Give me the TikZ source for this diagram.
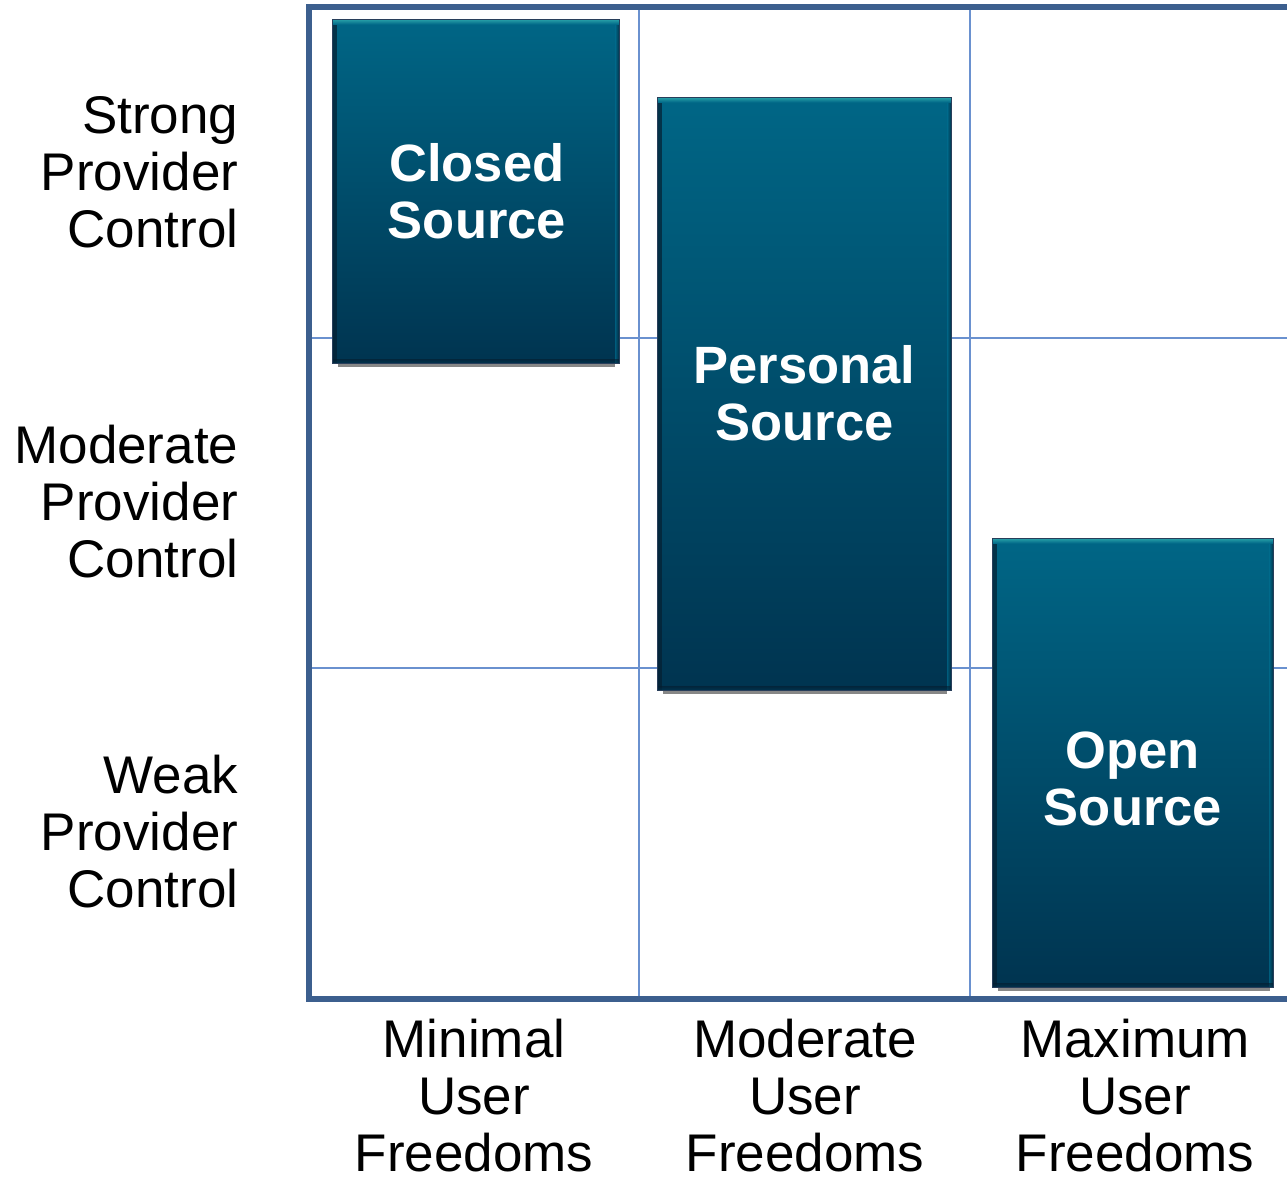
\documentclass[tikz,border=0pt]{standalone}
\usepackage{fontspec}
\setmainfont{Liberation Sans}
\definecolor{frameblue}{RGB}{60,95,142}
\definecolor{gridblue}{RGB}{106,145,207}
\definecolor{boxtop}{RGB}{0,102,134}
\definecolor{boxbot}{RGB}{0,52,80}
\definecolor{bevtop}{RGB}{40,160,168}
\definecolor{boxedge}{RGB}{5,30,48}
\definecolor{boxline}{RGB}{40,62,90}
\definecolor{shadowgray}{RGB}{135,135,135}
\begin{document}
\begin{tikzpicture}[x=1pt,y=-1pt,
  framestyle/.style={draw=frameblue,line width=6pt,line join=miter},
  gridstyle/.style={draw=gridblue,line width=2pt},
  axislabel/.style={inner sep=0pt,text=black,font=\fontsize{53}{57}\selectfont},
  srcbox/.style={anchor=north west,inner sep=0pt,draw=boxline,line width=0.8pt,
    top color=boxtop,bottom color=boxbot,
    path picture={
      \shade[left color=boxedge,right color=boxtop,opacity=0.7]
        (path picture bounding box.south west) rectangle ([xshift=4pt]path picture bounding box.north west);
      \shade[right color=boxedge,left color=boxtop,opacity=0.7]
        (path picture bounding box.south east) rectangle ([xshift=-4pt]path picture bounding box.north east);
      \shade[top color=boxedge,bottom color=boxbot,opacity=0.6]
        (path picture bounding box.south west) rectangle ([yshift=4pt]path picture bounding box.south east);
      \shade[top color=bevtop,bottom color=boxtop]
        (path picture bounding box.north west) rectangle ([yshift=-5pt]path picture bounding box.north east);
    }},
  srctext/.style={inner sep=0pt,align=center,text=white,font=\fontsize{52.5}{57}\selectfont\bfseries},
  shadowstyle/.style={fill=shadowgray}
]
\useasboundingbox[fill=white] (0,0) rectangle (1287,1179);

% grid
\draw[gridstyle] (639,7) -- (639,999);
\draw[gridstyle] (970,7) -- (970,999);
\draw[gridstyle] (309,338) -- (1287,338);
\draw[gridstyle] (309,668) -- (1287,668);
% frame
\draw[framestyle] (1290,7) -- (309,7) -- (309,999) -- (1290,999);

% boxes
\node[srcbox,minimum width=287pt,minimum height=344pt] (closed) at (332,19) {};
\node[srcbox,minimum width=294pt,minimum height=593pt] (personal) at (657,97) {};
\node[srcbox,minimum width=281pt,minimum height=449pt] (open) at (992,538) {};

\fill[shadowstyle] ([xshift=6pt]closed.south west) rectangle ([xshift=-5pt,yshift=-3pt]closed.south east);
\fill[shadowstyle] ([xshift=6pt]personal.south west) rectangle ([xshift=-5pt,yshift=-3pt]personal.south east);
\fill[shadowstyle] ([xshift=6pt]open.south west) rectangle ([xshift=-4pt,yshift=-3pt]open.south east);

\node[srctext] (closedtxt) at ([xshift=1pt]closed.center) {Closed\\Source};
\node[srctext] (personaltxt) at ([yshift=1pt]personal.center) {Personal\\Source};
\node[srctext] (opentxt) at ([yshift=-16pt]open.center) {Open\\Source};

% row labels
\node[axislabel,anchor=east,align=right] (strong) at (238.5,172) {Strong\\Provider\\Control};
\node[axislabel,anchor=east,align=right] (moderate) at (238.5,502) {Moderate\\Provider\\Control};
\node[axislabel,anchor=east,align=right] (weak) at (238.5,832) {Weak\\Provider\\Control};

% column labels
\node[axislabel,align=center] (minimal) at (474,1096) {Minimal\\User\\Freedoms};
\node[axislabel,align=center] (modfree) at (805,1096) {Moderate\\User\\Freedoms};
\node[axislabel,align=center] (maximum) at (1135,1096) {Maximum\\User\\Freedoms};
\end{tikzpicture}
\end{document}
